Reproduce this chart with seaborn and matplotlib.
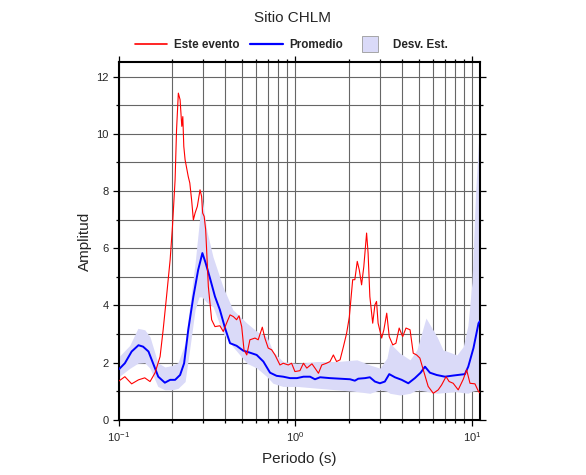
"""Sitio CHLM: spectral ratio of this event vs. station average."""
import matplotlib
matplotlib.use("Agg")
import matplotlib.pyplot as plt
import numpy as np
import pandas as pd
import seaborn as sns
from matplotlib.ticker import LogLocator, MultipleLocator, NullFormatter

# Este evento
event_period = [0.100, 0.108, 0.118, 0.129, 0.140, 0.150, 0.160, 0.171, 0.178, 0.186,
                0.195, 0.201, 0.208, 0.212, 0.217, 0.222, 0.227, 0.230, 0.233, 0.237,
                0.247, 0.252, 0.258, 0.264, 0.270, 0.278, 0.288, 0.294, 0.298, 0.304,
                0.310, 0.321, 0.335, 0.350, 0.373, 0.390, 0.407, 0.426, 0.445, 0.464,
                0.479, 0.496, 0.511, 0.530, 0.552, 0.590, 0.615, 0.649, 0.671, 0.701,
                0.733, 0.766, 0.817, 0.853, 0.910, 0.951, 0.993, 1.06, 1.11, 1.16,
                1.24, 1.29, 1.35, 1.41, 1.50, 1.57, 1.64, 1.71, 1.79, 1.87,
                1.95, 2.02, 2.11, 2.17, 2.24, 2.30, 2.37, 2.44, 2.53, 2.58,
                2.64, 2.74, 2.82, 2.88, 2.94, 3.08, 3.17, 3.29, 3.40, 3.56,
                3.71, 3.87, 4.05, 4.23, 4.46, 4.65, 4.86, 5.07, 5.30, 5.65,
                6.04, 6.44, 6.73, 7.13, 7.43, 7.83, 8.36, 8.93, 9.33, 9.75,
                10.4, 10.9, 11.1]
event_amp = [1.36, 1.51, 1.26, 1.40, 1.47, 1.34, 1.64, 2.21, 3.15, 4.31,
             5.60, 6.76, 8.39, 10.14, 11.42, 11.19, 10.26, 10.60, 9.56, 9.09,
             8.50, 8.28, 7.69, 6.99, 7.23, 7.46, 8.04, 7.81, 7.23, 7.11,
             6.64, 4.66, 3.50, 3.26, 3.29, 3.09, 3.38, 3.67, 3.61, 3.50,
             3.64, 3.26, 2.45, 2.27, 2.80, 2.86, 2.80, 3.24, 2.86, 2.51,
             2.45, 2.27, 1.92, 1.98, 1.92, 1.98, 1.69, 1.72, 1.98, 1.81,
             1.96, 1.81, 1.63, 1.92, 1.98, 2.04, 2.27, 2.04, 2.10, 2.56,
             3.03, 3.60, 4.90, 4.90, 5.54, 5.24, 4.72, 5.36, 6.53, 5.83,
             4.31, 3.38, 4.02, 4.14, 3.38, 2.86, 3.15, 3.73, 2.91, 2.62,
             2.68, 3.21, 2.91, 3.21, 3.15, 2.33, 2.27, 2.16, 1.75, 1.17,
             0.93, 1.05, 1.22, 1.51, 1.34, 1.28, 1.05, 1.42, 1.75, 1.28,
             1.26, 0.99, 0.95]

# Promedio
mean_period = [0.100, 0.108, 0.118, 0.129, 0.137, 0.147, 0.156, 0.167, 0.182, 0.195,
               0.208, 0.222, 0.234, 0.247, 0.264, 0.281, 0.297, 0.310, 0.328, 0.350,
               0.373, 0.399, 0.426, 0.464, 0.506, 0.552, 0.603, 0.658, 0.718, 0.782,
               0.853, 0.931, 1.02, 1.11, 1.21, 1.29, 1.38, 1.57, 1.79, 2.04,
               2.17, 2.27, 2.48, 2.64, 2.82, 3.01, 3.21, 3.40, 3.66, 4.00,
               4.36, 4.75, 5.12, 5.42, 5.78, 6.31, 7.03, 7.83, 9.12, 9.53,
               10.2, 10.9, 11.1]
mean_amp = [1.77, 1.98, 2.39, 2.61, 2.56, 2.39, 1.98, 1.51, 1.30, 1.40,
            1.40, 1.57, 1.98, 3.15, 4.31, 5.24, 5.83, 5.48, 4.95, 4.31,
            3.85, 3.21, 2.68, 2.59, 2.42, 2.35, 2.27, 2.04, 1.65, 1.54,
            1.51, 1.46, 1.46, 1.51, 1.51, 1.42, 1.49, 1.46, 1.44, 1.42,
            1.37, 1.44, 1.46, 1.49, 1.34, 1.28, 1.34, 1.60, 1.49, 1.40,
            1.28, 1.46, 1.65, 1.86, 1.65, 1.57, 1.51, 1.55, 1.60, 1.86,
            2.51, 3.38, 3.45]

# Desv. Est.
band_period = [0.100, 0.115, 0.128, 0.140, 0.150, 0.166, 0.182, 0.200, 0.216, 0.237,
               0.252, 0.270, 0.284, 0.295, 0.315, 0.341, 0.388, 0.442, 0.531, 0.605,
               0.689, 0.746, 0.850, 1.02, 1.32, 1.72, 2.23, 2.64, 3.01, 3.30,
               3.43, 3.91, 4.46, 4.88, 5.49, 6.34, 6.85, 8.22, 8.93, 9.49,
               10.0, 10.5, 11.1]
band_upper = [2.21, 2.60, 3.20, 3.15, 2.90, 2.00, 1.85, 1.90, 2.00, 2.68,
              4.00, 5.48, 6.80, 7.80, 6.60, 5.70, 4.66, 3.85, 3.38, 3.09,
              2.91, 2.39, 2.04, 1.97, 2.04, 2.04, 2.10, 1.92, 1.81, 2.16,
              2.68, 2.33, 2.10, 2.45, 3.56, 2.91, 2.45, 2.27, 2.56, 3.30,
              4.80, 8.00, 10.60]
band_lower = [1.51, 1.80, 1.98, 2.00, 1.80, 1.17, 1.05, 1.05, 1.10, 1.34,
              2.50, 3.85, 4.30, 4.30, 4.10, 3.96, 3.04, 2.56, 1.98, 1.81,
              1.51, 1.28, 1.17, 1.17, 1.11, 1.05, 0.99, 0.93, 1.05, 1.00,
              0.93, 0.87, 0.93, 1.05, 1.00, 0.93, 0.95, 0.99, 0.95, 0.93,
              1.00, 1.03, 1.05]

RED = "#ff0000"
BLUE = "#0000ff"
BAND = "#dadaf8"
GRID = "#666666"

sns.set_style("ticks")
plt.rcParams["font.family"] = ["Liberation Sans", "DejaVu Sans"]
plt.rcParams["mathtext.default"] = "regular"

event = pd.DataFrame({"period": event_period, "amp": event_amp})
mean = pd.DataFrame({"period": mean_period, "amp": mean_amp})
band = pd.DataFrame({"period": band_period, "upper": band_upper, "lower": band_lower})

fig = plt.figure(figsize=(5.86, 4.75), dpi=100)
ax = fig.add_axes([0.203, 0.116, 0.616, 0.753])

ax.fill_between(band["period"], band["lower"], band["upper"], color=BAND, linewidth=0, zorder=1)
sns.lineplot(data=mean, x="period", y="amp", ax=ax, color=BLUE, linewidth=1.4,
             estimator=None, sort=False, zorder=3)
sns.lineplot(data=event, x="period", y="amp", ax=ax, color=RED, linewidth=0.8,
             estimator=None, sort=False, zorder=4)

ax.set_xscale("log")
ax.set_xlim(0.1, 11.1)
ax.set_ylim(0, 12.5)
ax.xaxis.set_major_locator(LogLocator(base=10))
ax.xaxis.set_minor_locator(LogLocator(base=10, subs=np.arange(2, 10)))
ax.xaxis.set_minor_formatter(NullFormatter())
ax.yaxis.set_major_locator(MultipleLocator(2))
ax.yaxis.set_minor_locator(MultipleLocator(1))

ax.grid(which="both", color=GRID, linewidth=0.8, zorder=0)
ax.set_axisbelow(True)
for side in ax.spines.values():
    side.set_linewidth(1.5)
    side.set_color("black")
ax.tick_params(which="both", direction="out", top=True, right=True, labelsize=8,
               color="black", width=0.9)
ax.tick_params(which="major", length=4)
ax.tick_params(which="minor", length=2.5)

ax.set_xlabel("Periodo (s)", fontsize=11, labelpad=6)
ax.set_ylabel("Amplitud", fontsize=11, labelpad=3)
fig.text(0.5, 0.962, "Sitio CHLM", ha="center", va="center", fontsize=11)

handles = [
    plt.Line2D([], [], color=RED, linewidth=1.2),
    plt.Line2D([], [], color=BLUE, linewidth=1.6),
    plt.Line2D([], [], linestyle="none", marker="s", markersize=11,
               markerfacecolor=BAND, markeredgecolor="#9a9a9a", markeredgewidth=0.6),
]
fig.legend(handles, ["Este evento", "Promedio", "Desv. Est."], ncol=3, frameon=False,
           loc="center", bbox_to_anchor=(0.497, 0.905),
           prop={"weight": "bold", "size": 8.4}, handlelength=2.8, columnspacing=0.85,
           handletextpad=0.6)

fig.savefig("out.png", dpi=100)
